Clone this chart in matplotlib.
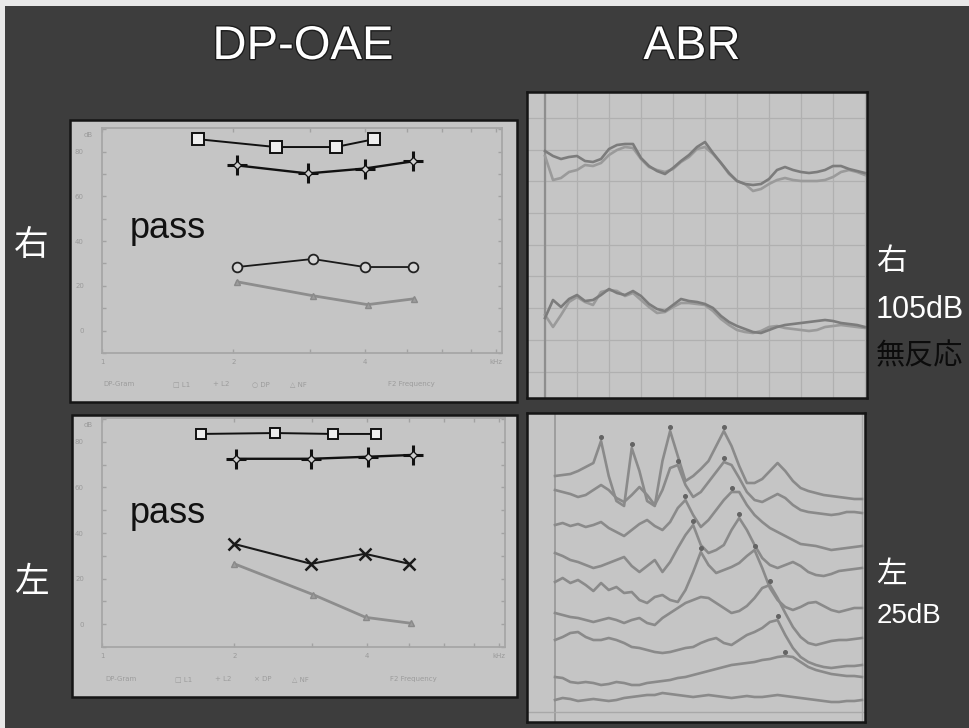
import numpy as np
import matplotlib
matplotlib.use("Agg")
import matplotlib.pyplot as plt
import matplotlib.patheffects as pe
from matplotlib.patches import Rectangle
from matplotlib.ticker import FixedLocator, NullFormatter, MultipleLocator

W, H = 970, 728
JP = ["Noto Sans CJK JP", "DejaVu Sans"]
SANS = ["Liberation Sans", "DejaVu Sans"]

# ---- DP-gram values (kHz, dB SPL) ----
R_L1_f = [1.66, 2.50, 3.43, 4.20]; R_L1 = [85.5, 82.0, 82.0, 85.5]
R_L2_f = [2.04, 2.96, 4.00, 5.15]; R_L2 = [73.8, 70.2, 72.4, 75.6]
R_DP_f = [2.04, 3.04, 4.00, 5.15]; R_DP = [28.4, 32.0, 28.4, 28.4]
R_NF_f = [2.04, 3.04, 4.06, 5.18]; R_NF = [21.8, 15.6, 11.6, 14.2]

L_L1_f = [1.68, 2.48, 3.35, 4.19]; L_L1 = [83.5, 83.9, 83.5, 83.5]
L_L2_f = [2.02, 2.99, 4.02, 5.10]; L_L2 = [72.6, 72.6, 73.5, 74.3]
L_DP_f = [2.00, 2.99, 3.96, 5.00]; L_DP = [35.2, 26.5, 30.9, 26.5]
L_NF_f = [2.00, 3.02, 3.98, 5.05]; L_NF = [26.5, 13.0, 3.0, 0.4]

DB_TICKS = [0, 20, 40, 60, 80]
F_TICKS = [1, 2, 4, 8]
F_LABELS = ["1", "2", "4", "kHz"]

# ---- ABR waveforms, sampled every 0.25 ms (amplitude in a.u.) ----
ABR_T = np.arange(41) * 0.25

R105_1a = [17, 12, 9, 11, 12, 7, 6, 9, 19, 23, 24, 24, 10, 2, -3, -6, 0, 7, 13, 21, 26, 15, 5, -5, -13,
           -16, -17, -16, -11, -2, 1, -2, -4, -5, -4, -2, 2, 2, -1, -3, -5]
R105_1b = [12, -12, -10, -4, -2, 3, 2, 5, 13, 18, 21, 20, 9, 1, -2, -4, -1, 6, 11, 19, 21, 14, 5, -6, -13,
           -16, -23, -21, -16, -12, -10, -12, -13, -13, -13, -12, -9, -4, -2, -4, -7]
R105_2a = [-3, 15, 8, 16, 20, 14, 15, 20, 26, 22, 20, 24, 19, 11, 6, 4, 10, 16, 14, 13, 11, 7, -1, -7, -11,
           -14, -17, -18, -15, -12, -10, -9, -8, -7, -6, -5, -6, -8, -9, -10, -12]
R105_2b = [0, -12, 0, 13, 18, 13, 10, 23, 25, 24, 19, 22, 15, 8, 2, 3, 8, 12, 12, 11, 10, 4, -4, -10, -15,
           -17, -18, -16, -12, -11, -13, -14, -15, -16, -15, -12, -11, -10, -11, -12, -13]

L_LEVELS = ["L 90dB", "L 80dB", "L 70dB", "L 60dB", "L 50dB", "L 40dB", "L 30dB", "L 25dB", "L 20dB"]
L_WAVES = [
    [0, 1, 2, 5, 9, 13, 35, 0, -25, -30, 28, 5, -25, -30, 15, 45, 20, -5, 0, 7, 15, 30, 45, 30, 10,
     -7, -7, -3, 5, 13, 5, -5, -12, -15, -17, -19, -20, -21, -22, -23, -23],
    [0, -2, -4, -7, -5, 0, 5, 0, -8, -12, -5, 3, -5, -15, 0, 22, 25, 5, -7, -2, 8, 18, 28, 25, 12,
     -2, -10, -12, -8, -4, -8, -15, -20, -22, -23, -24, -25, -24, -22, -22, -23],
    [0, 2, -1, 1, -2, 0, 3, -3, -7, -11, -5, 1, 5, -1, -5, 3, 17, 25, 10, -2, 5, 15, 25, 33, 33,
     20, 10, 3, -3, -7, -11, -15, -19, -20, -21, -23, -25, -24, -23, -22, -21],
    [0, -3, -7, -9, -12, -15, -13, -10, -7, -4, -13, -19, -13, -7, -19, -9, 5, 18, 28, 8, 0, 3, 8, 23, 35,
     23, 8, -5, -12, -15, -12, -9, -13, -19, -22, -23, -21, -18, -17, -16, -15],
    [-2, 2, -3, 0, -5, -11, -3, -10, -7, -13, -12, -20, -23, -17, -15, -20, -22, -10, 8, 28, 15, 7, 10, 13, 17,
     24, 30, 12, -8, -20, -27, -30, -27, -23, -22, -26, -30, -32, -30, -28, -28],
    [0, -2, -4, -5, -7, -9, -7, -5, -7, -10, -7, -5, -10, -12, -5, 0, 5, 10, 13, 16, 15, 10, 5, 0, 2,
     7, 15, 25, 28, 15, 0, -14, -24, -30, -32, -30, -28, -27, -27, -26, -25],
    [-8, -5, -1, 0, -5, -8, -8, -6, -8, -11, -15, -16, -18, -20, -21, -20, -18, -16, -15, -11, -8, -6, -11, -13, -8,
     -3, 0, 4, 10, 12, -3, -16, -25, -30, -33, -35, -36, -35, -34, -34, -33],
    [0, -1, -5, -6, -5, -6, -8, -7, -5, -6, -8, -8, -6, -5, -4, -3, -1, 0, 2, 4, 6, 8, 10, 12, 13,
     14, 15, 17, 18, 20, 21, 20, 15, 10, 7, 5, 3, 2, 1, 1, 0],
    [0, 2, 1, -1, 0, 1, 0, -1, 0, 2, 3, 4, 5, 5, 7, 6, 5, 4, 3, 4, 5, 4, 3, 2, 3,
     4, 3, 3, 4, 5, 4, 3, 2, 1, 0, -1, -2, -2, -1, -1, 0],
]
L_PEAKS = [[6, 10, 15, 22], [16, 22], [17, 23], [18, 24], [19, 26], [28], [29], [30], []]

# ---- layout (pixels of the 970x728 slide) ----
PANEL = "#c5c5c5"
TOP_BASE = [168, 168, 315, 315]
L_BASE = [476, 490, 525, 553, 580, 613, 632, 677, 700]
L_LABEL_Y = [470, 498, 525, 555, 583, 612, 640, 668, 695]

fig = plt.figure(figsize=(W / 100, H / 100), dpi=100)
fig.patch.set_facecolor("#e8e8e8")
bg = fig.add_axes([0, 0, 1, 1])
bg.set_xlim(0, W); bg.set_ylim(H, 0); bg.axis("off")
bg.add_patch(Rectangle((5, 6), W - 5, H - 6, fc="#3d3d3d", ec="none"))


def px_axes(x0, y0, x1, y1):
    return fig.add_axes([x0 / W, 1 - y1 / H, (x1 - x0) / W, (y1 - y0) / H])


def dpgram(box, inner, L1, L2, DP, NF, dp_marker, dp_sym, sq_size):
    x0, y0, x1, y1 = box
    bg.add_patch(Rectangle((x0, y0), x1 - x0, y1 - y0, fc=PANEL, ec="#151515", lw=1.8))
    ax = px_axes(*inner)
    ax.set_facecolor("none")
    ax.set_xscale("log"); ax.set_xlim(1, 8.25); ax.set_ylim(-10, 90.5)
    ax.xaxis.set_major_locator(FixedLocator(F_TICKS)); ax.set_xticklabels(F_LABELS)
    ax.xaxis.set_minor_locator(FixedLocator([3, 5, 6, 7])); ax.xaxis.set_minor_formatter(NullFormatter())
    ax.set_yticks(DB_TICKS); ax.yaxis.set_minor_locator(MultipleLocator(10))
    ax.tick_params(which="both", direction="in", top=True, right=True, color="#a2a2a2",
                   labelcolor="#9a9a9a", labelsize=5, length=3, width=1)
    ax.tick_params(axis="y", pad=13); ax.tick_params(axis="x", pad=4)
    for s in ax.spines.values():
        s.set_color("#a6a6a6"); s.set_linewidth(1.3)

    ax.plot(*NF, "-^", color="#8d8d8d", lw=2, ms=5, mfc="#9c9c9c", mec="#8a8a8a")
    if dp_marker == "o":
        ax.plot(*DP, "-o", color="#1a1a1a", lw=1.3, ms=7, mfc="#d6d6d6", mec="#222222", mew=1.3)
    else:
        ax.plot(*DP, "-x", color="#1a1a1a", lw=1.5, ms=9, mew=1.8)
    ax.plot(*L2, "-+", color="#111111", lw=1.7, ms=15, mew=2.2)
    ax.plot(*L2, "D", ls="none", ms=4, mfc="#cfcfcf", mec="#111111", mew=0.9)
    ax.plot(*L1, "-s", color="#111111", lw=1.4, ms=sq_size, mfc="#eeeeee", mec="#111111", mew=1.4)

    lx, ly = x0, y1 - 18
    bg.text(inner[0] - 18, inner[1] + 7, "dB", fontsize=5, color="#9a9a9a", va="center")
    for dx, s in [(33, "DP-Gram"), (103, "\u25a1 L1"), (143, "+ L2"), (182, dp_sym + " DP"),
                  (220, "\u25b3 NF"), (318, "F2 Frequency")]:
        bg.text(lx + dx, ly, s, fontsize=5, color="#9c9c9c", va="center")
    return ax


dpgram((70, 120, 517, 402), (102, 128, 502, 353),
       (R_L1_f, R_L1), (R_L2_f, R_L2), (R_DP_f, R_DP), (R_NF_f, R_NF), "o", "\u25cb", 8)
dpgram((72, 415, 517, 697), (102, 418, 505, 647),
       (L_L1_f, L_L1), (L_L2_f, L_L2), (L_DP_f, L_DP), (L_NF_f, L_NF), "x", "\u00d7", 6.5)

bg.text(130, 238, "pass", fontsize=26, family=SANS, color="#111111", va="baseline")
bg.text(130, 523, "pass", fontsize=26, family=SANS, color="#111111", va="baseline")

# ---- ABR, right ear (105 dB, two repeats per channel) ----
top = (527, 92, 867, 398)
ax = px_axes(*top)
ax.set_facecolor(PANEL)
ax.set_xlim(-18 / 32, 322 / 32); ax.set_ylim(-(top[3] - top[1]), 0)
ax.set_xticks(range(0, 11)); ax.set_yticks(-(np.arange(118, 398, 31.7) - top[1]))
ax.grid(True, color="#b0b0b0", lw=0.9)
ax.tick_params(length=0, labelbottom=False, labelleft=False)
for s in ax.spines.values():
    s.set_color("#151515"); s.set_linewidth(1.8)
ax.axvline(0, color="#8e8e8e", lw=1.6)
for wave, base, col in zip([R105_1b, R105_1a, R105_2b, R105_2a], TOP_BASE,
                           ["#9a9a9a", "#7c7c7c", "#9a9a9a", "#7c7c7c"]):
    ax.plot(ABR_T, np.array(wave) - (base - top[1]), color=col, lw=1.9)
bg.text(820, 163, "R 105dB", fontsize=5, color="#2b2b2b", va="center")
bg.text(531, 174, "R1", fontsize=4.5, color="#555555", va="center")
bg.text(531, 314, "R2", fontsize=4.5, color="#555555", va="center")
bg.text(548, 388, "0", fontsize=4.5, color="#666666", va="center")
bg.text(851, 389, "1ms", fontsize=4.5, color="#555555", va="center")

# ---- ABR, left ear (intensity series) ----
bot = (527, 413, 865, 722)
ax = px_axes(*bot)
ax.set_facecolor(PANEL)
ax.set_xlim(-28 / 30.7, 310 / 30.7); ax.set_ylim(-(bot[3] - bot[1]), 0)
ax.set_xticks([]); ax.set_yticks([])
for s in ax.spines.values():
    s.set_color("#151515"); s.set_linewidth(1.8)
ax.axvline(0, color="#9a9a9a", lw=1.3)
ax.axvline(10, color="#a8a8a8", lw=1.0)
ax.axhline(-(712 - bot[1]), color="#a8a8a8", lw=1.0)
for i, (wave, base, peaks) in enumerate(zip(L_WAVES, L_BASE, L_PEAKS)):
    y = np.array(wave) - (base - bot[1])
    ax.plot(ABR_T, y, color="#8a8a8a", lw=1.9)
    if peaks:
        ax.plot(ABR_T[peaks], y[peaks] + 4, "o", color="#646464", ms=2.6)
for lab, ly in zip(L_LEVELS, L_LABEL_Y):
    bg.text(831, ly, lab, fontsize=4.8, color="#4d4d4d", weight="bold", va="center")
for i, base in enumerate(L_BASE):
    bg.text(543, base - 2, str(i + 1), fontsize=4.5, color="#777777", ha="center", va="center")

# ---- slide titles and captions ----
stroke = [pe.withStroke(linewidth=2, foreground="#1c1c1c")]
bg.text(303, 47, "DP-OAE", fontsize=34, family=SANS, color="white", ha="center", va="center",
        path_effects=stroke)
bg.text(692, 47, "ABR", fontsize=34, family=SANS, color="white", ha="center", va="center",
        path_effects=stroke)
bg.text(14, 246, "右", fontsize=25, family=JP, color="white", va="center")
bg.text(14, 582, "左", fontsize=25, family=JP, color="white", va="center")
bg.text(876, 261, "右", fontsize=22, family=JP, color="white", va="center")
bg.text(876, 318, "105dB", fontsize=22, family=SANS, color="white", va="baseline")
bg.text(876, 356, "無反応", fontsize=21, family=JP, color="#0c0c0c", va="center")
bg.text(876, 574, "左", fontsize=22, family=JP, color="white", va="center")
bg.text(877, 623, "25dB", fontsize=20, family=SANS, color="white", va="baseline")

fig.savefig("out.png", dpi=100, facecolor=fig.get_facecolor())
